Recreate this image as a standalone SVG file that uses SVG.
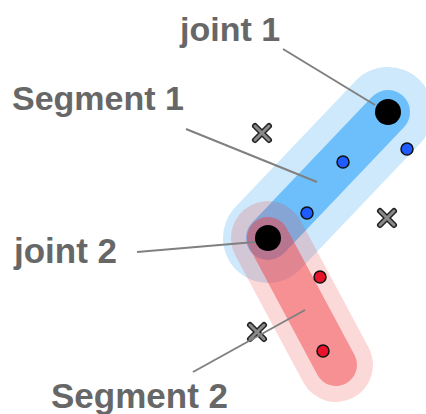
<svg xmlns="http://www.w3.org/2000/svg" width="426" height="414" viewBox="0 0 426 414">
<style>
.lbl{font-family:"Liberation Sans",Arial,sans-serif;font-weight:bold;font-size:34px;fill:#676767}
.lead{stroke:#808080;stroke-width:2;fill:none}
.cap{fill:none;stroke-linecap:round}
.bdot{fill:#1f5cff;stroke:#111;stroke-width:1.5}
.rdot{fill:#e8132a;stroke:#111;stroke-width:1.5}
.xo{stroke:#222;stroke-width:6;stroke-linecap:round}
.xi{stroke:#8a8a8a;stroke-width:3;stroke-linecap:round}
</style>
<rect width="426" height="414" fill="#fff"/>
<g id="segment1">
<line class="cap" x1="268" y1="238" x2="388" y2="112" stroke="#cde9fb" stroke-width="90"/>
<line class="cap" x1="268" y1="238" x2="388" y2="112" stroke="#6cbffa" stroke-width="44"/>
</g>
<g id="segment2">
<line class="cap" x1="268" y1="238" x2="336" y2="365" stroke="#f14043" stroke-opacity="0.2" stroke-width="74"/>
<line class="cap" x1="268" y1="238" x2="336" y2="365" stroke="#f14043" stroke-opacity="0.475" stroke-width="42"/>
</g>
<g id="points">
<circle class="bdot" cx="407" cy="149" r="6"/>
<circle class="bdot" cx="343" cy="162" r="6"/>
<circle class="bdot" cx="307" cy="213" r="6"/>
<circle class="rdot" cx="320" cy="277" r="6"/>
<circle class="rdot" cx="323" cy="351" r="6"/>
</g>
<g id="crosses">
<path class="xo" d="M255 126 L269 140 M269 126 L255 140"/>
<path class="xi" d="M255 126 L269 140 M269 126 L255 140"/>
<path class="xo" d="M380 211 L394 225 M394 211 L380 225"/>
<path class="xi" d="M380 211 L394 225 M394 211 L380 225"/>
<path class="xo" d="M250 325 L264 339 M264 325 L250 339"/>
<path class="xi" d="M250 325 L264 339 M264 325 L250 339"/>
</g>
<g id="connectors">
<line class="lead" x1="283" y1="49" x2="375" y2="105"/>
<line class="lead" x1="186" y1="129" x2="317" y2="182"/>
<line class="lead" x1="137" y1="252" x2="255" y2="242"/>
<line class="lead" x1="193" y1="372" x2="305" y2="310"/>
</g>
<g id="joint1">
<circle cx="388" cy="112" r="13" fill="#000"/>
<text class="lbl" x="180" y="41">joint 1</text>
</g>
<g id="joint2">
<circle cx="268" cy="238" r="13" fill="#000"/>
<text class="lbl" x="14" y="263" style="font-size:35px">joint 2</text>
</g>
<g id="label-seg1">
<text class="lbl" x="12" y="110">Segment 1</text>
</g>
<g id="label-seg2">
<text class="lbl" x="51" y="408" style="font-size:35px">Segment 2</text>
</g>
</svg>
